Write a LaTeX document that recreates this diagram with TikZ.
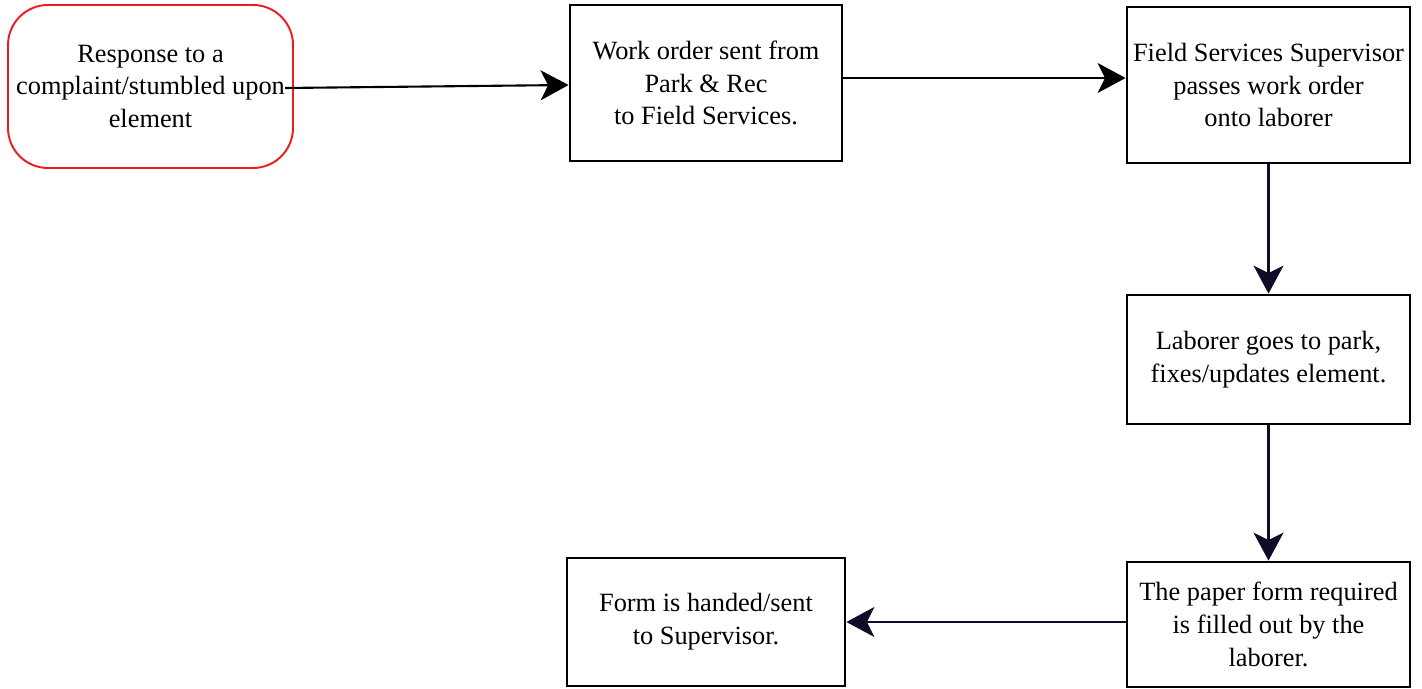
\documentclass[tikz,border=0pt]{standalone}
\usepackage{fontspec}
\setmainfont{Liberation Serif}
\usetikzlibrary{arrows.meta}
\definecolor{navy}{RGB}{14,12,38}
\definecolor{redline}{RGB}{235,30,30}
\tikzset{
  stepbox/.style={draw, line width=1.6pt, align=center, inner sep=0pt,
    font=\fontsize{15}{18.6}\selectfont},
  flow/.style={line width=1.2pt, -{Stealth[length=5.6mm, width=6mm, inset=1.5mm]}}
}
\begin{document}
\begin{tikzpicture}
\useasboundingbox (0,0) rectangle (28.44,-13.78);
% top row
\node[stepbox, draw=redline, line width=1.1pt, rounded corners=0.8cm,
  minimum width=5.7cm, minimum height=3.26cm] (resp) at (3.01,-1.73)
  {Response to a\\complaint/stumbled upon\\element};
\node[stepbox, minimum width=5.44cm, minimum height=3.12cm] (work) at (14.12,-1.66)
  {Work order sent from\\Park \& Rec\\to Field Services.};
\node[stepbox, minimum width=5.66cm, minimum height=3.12cm] (sup) at (25.37,-1.70)
  {Field Services Supervisor\\passes work order\\onto laborer};
% right column
\node[stepbox, minimum width=5.66cm, minimum height=2.58cm] (lab) at (25.37,-7.19)
  {Laborer goes to park,\\fixes/updates element.};
\node[stepbox, minimum width=5.66cm, minimum height=2.5cm] (paper) at (25.37,-12.49)
  {The paper form required\\is filled out by the\\laborer.};
% bottom row
\node[stepbox, minimum width=5.56cm, minimum height=2.56cm] (form) at (14.12,-12.44)
  {Form is handed/sent\\to Supervisor.};
\coordinate (start) at (5.7,-1.76);
\draw[flow] (start) -- (work.west |- 0,-1.7);
\draw[flow] (work.east |- 0,-1.56) -- (sup.west |- 0,-1.56);
\draw[flow, navy] (sup.south) -- (lab.north);
\draw[flow, navy] (lab.south) -- (paper.north);
\draw[flow, navy] (paper.west |- 0,-12.44) -- (form.east |- 0,-12.44);
\end{tikzpicture}
\end{document}
